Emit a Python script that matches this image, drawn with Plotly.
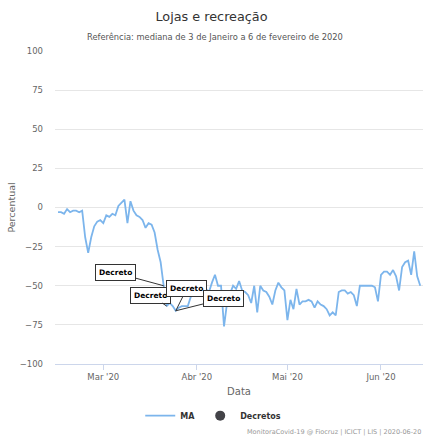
import pandas as pd
import plotly.graph_objects as go

# daily series, 2020-02-15 .. 2020-06-14
start = "2020-02-15"
ma_values = [
    -3, -3, -4, -1, -3, -2, -2, -3, -2, -19, -29, -19, -12, -9, -8,
    -10, -5, -6, -4, -5, 1, 3, 5, -10, 4, -2, -5, -6, -8, -13, -10,
    -11, -16, -27, -35, -50, -63, -61, -63, -66, -64, -63, -63, -63, -57, -55,
    -55, -53, -50, -52, -54, -48, -43, -50, -50, -76, -61, -55, -50, -52, -47,
    -53, -54, -56, -61, -50, -67, -50, -53, -54, -57, -62, -53, -48, -51, -53,
    -72, -59, -65, -52, -62, -60, -60, -59, -60, -64, -60, -62, -63, -65, -69,
    -67, -69, -54, -53, -53, -55, -54, -56, -63, -50, -50, -50, -50, -50, -51,
    -60, -43, -41, -41, -43, -40, -44, -53, -38, -35, -34, -43, -28, -44, -50,
]
dates = pd.date_range(start, periods=len(ma_values), freq="D")

decree_dates = ["2020-03-21", "2020-03-22", "2020-03-25", "2020-03-25"]
decree_values = [-50, -63, -66, -66]
decree_text = ["Decreto", "Decreto", "Decreto", "Decreto"]

month_ticks = ["2020-03-01", "2020-04-01", "2020-05-01", "2020-06-01"]
month_labels = ["Mar '20", "Abr '20", "Mai '20", "Jun '20"]

font = "DejaVu Sans"

fig = go.Figure()
fig.add_trace(
    go.Scatter(
        x=dates, y=ma_values, mode="lines", name="<b>MA</b>",
        line=dict(color="#7cb5ec", width=1.8),
    )
)
# legend entry only; decrees are drawn as labelled annotations
fig.add_trace(
    go.Scatter(
        x=[None], y=[None], mode="markers", name="<b>Decretos</b>",
        marker=dict(color="#434348", size=10),
    )
)

# label offsets (px) of each decree box from its point
offsets = [(-48, -13), (-16, -11), (11, -22), (48, -12)]
for d, v, t, (ax, ay) in zip(decree_dates, decree_values, decree_text, offsets):
    fig.add_annotation(
        x=d, y=v, text=f"<b>{t}</b>", showarrow=True, arrowhead=0,
        arrowwidth=1, arrowcolor="#333333", ax=ax, ay=ay,
        bgcolor="white", bordercolor="#333333", borderwidth=1, borderpad=3,
        font=dict(family=font, size=7.5, color="#000"),
    )

fig.add_annotation(
    text="Referência: mediana de 3 de Janeiro a 6 de fevereiro de 2020",
    xref="paper", yref="paper", x=0.435, y=1.045, xanchor="center",
    yanchor="middle", showarrow=False,
    font=dict(family=font, size=8.3, color="#555"),
)
fig.add_annotation(
    text="MonitoraCovid-19 @ Fiocruz | ICICT | LIS | 2020-06-20",
    xref="paper", yref="paper", x=1.0, y=-0.217, xanchor="right",
    yanchor="middle", showarrow=False,
    font=dict(family=font, size=6.5, color="#999"),
)

fig.update_layout(
    width=423, height=439,
    margin=dict(l=55, r=0, t=51, b=75),
    paper_bgcolor="white", plot_bgcolor="white",
    font=dict(family=font, color="#666"),
    title=dict(
        text="Lojas e recreação", x=0.5, xanchor="center", y=0.962,
        yanchor="middle", font=dict(family=font, size=12.8, color="#333"),
    ),
    showlegend=True,
    legend=dict(
        orientation="h", x=0.43, xanchor="center", y=-0.165, yanchor="middle",
        font=dict(family=font, size=8, color="#333"),
        itemwidth=30, tracegroupgap=0,
    ),
    xaxis=dict(
        range=["2020-02-14", "2020-06-14 22:00"],
        tickvals=month_ticks, ticktext=month_labels,
        ticks="outside", ticklen=5, tickcolor="#ccd6eb",
        showgrid=False, showline=True, linecolor="#ccd6eb", linewidth=1,
        tickfont=dict(family=font, size=8.5, color="#666"),
        title=dict(text="Data", font=dict(family=font, size=10, color="#666"),
                   standoff=6),
    ),
    yaxis=dict(
        range=[-100, 100], tickvals=[-100, -75, -50, -25, 0, 25, 50, 75, 100],
        showgrid=True, gridcolor="#e6e6e6", zeroline=False,
        tickfont=dict(family=font, size=8.5, color="#666"),
        ticks="", ticklabelstandoff=11,
        title=dict(text="Percentual",
                   font=dict(family=font, size=9.5, color="#666"), standoff=2),
    ),
)

# the page body has a default 8px margin; drop it so the figure sits at 0,0
fig.write_html(
    "out.html",
    config={"displayModeBar": False},
    post_script="document.body.style.margin='0';",
)
